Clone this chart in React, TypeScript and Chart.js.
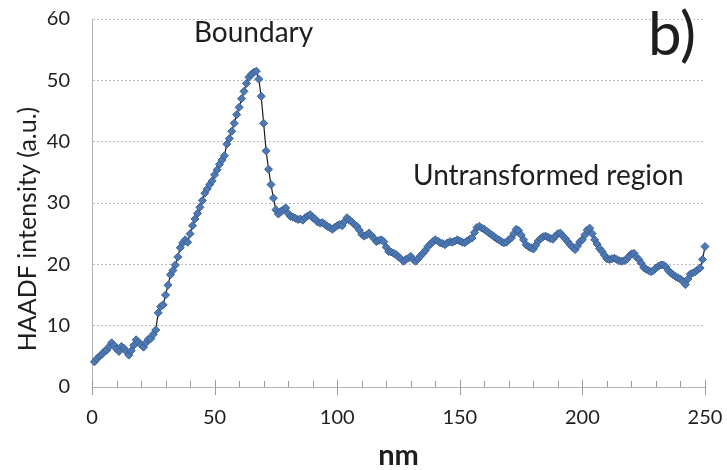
import React, { useEffect, useRef } from 'react';
import { Chart, registerables } from 'chart.js';

Chart.register(...registerables);

// Position along the line profile (nm), one sample per nm
const positionsNm: number[] = Array.from({ length: 250 }, (_, i) => i + 1);

// HAADF intensity (a.u.) read from the profile
const intensity: number[] = [
  4.1, 4.6, 5.0, 5.3, 5.8, 6.0, 6.6, 7.2, 6.8, 6.2,
  5.8, 6.6, 6.3, 5.8, 5.2, 5.9, 6.8, 7.7, 7.3, 6.9,
  6.5, 7.2, 7.8, 7.9, 8.6, 9.3, 12.1, 13.1, 13.4, 15.0,
  16.6, 18.3, 19.0, 19.9, 21.2, 22.7, 23.5, 24.0, 23.6, 25.0,
  26.3, 27.4, 28.3, 29.3, 30.4, 31.6, 32.3, 33.0, 33.6, 34.6,
  35.4, 36.3, 37.0, 37.7, 39.6, 40.5, 41.7, 43.0, 44.4, 45.6,
  47.0, 48.2, 49.5, 50.5, 51.0, 51.3, 51.5, 50.2, 47.4, 43.0,
  38.5, 35.5, 33.0, 30.8, 28.9, 28.2, 28.6, 28.9, 29.2, 28.3,
  27.8, 27.7, 27.5, 27.3, 27.4, 27.2, 27.6, 27.9, 28.1, 27.6,
  27.4, 26.9, 26.7, 26.8, 26.5, 26.2, 26.0, 25.7, 26.0, 26.3,
  26.5, 26.3, 27.0, 27.6, 27.2, 26.9, 26.5, 26.2, 25.6, 24.9,
  24.6, 24.8, 25.1, 24.7, 24.2, 23.7, 23.9, 24.0, 23.7, 22.8,
  22.1, 22.0, 21.8, 21.6, 21.2, 20.9, 20.5, 20.8, 21.0, 21.3,
  20.8, 20.5, 20.9, 21.4, 21.8, 22.3, 22.9, 23.3, 23.7, 24.0,
  23.8, 23.5, 23.4, 23.2, 23.5, 23.7, 23.6, 23.8, 24.0, 23.8,
  23.6, 23.5, 23.8, 24.1, 24.3, 25.2, 26.0, 26.2, 25.9, 25.7,
  25.4, 25.1, 24.8, 24.5, 24.2, 24.0, 23.7, 23.5, 23.6, 24.0,
  24.3, 25.0, 25.7, 25.5, 24.8, 24.0, 23.2, 22.9, 22.7, 22.5,
  23.1, 23.8, 24.2, 24.5, 24.6, 24.4, 24.2, 24.1, 24.6, 25.0,
  25.1, 24.6, 24.2, 23.7, 23.2, 22.8, 22.4, 23.0, 23.7, 24.0,
  24.8, 25.6, 25.9, 25.0, 24.0, 23.3, 22.6, 22.1, 21.5, 20.9,
  20.8, 20.9, 21.0, 20.8, 20.6, 20.5, 20.6, 20.8, 21.3, 21.7,
  21.8, 21.2, 20.8, 20.2, 19.5, 19.2, 19.0, 18.8, 19.0, 19.4,
  19.7, 19.9, 19.9, 19.6, 19.0, 18.6, 18.3, 18.0, 17.8, 17.6,
  17.2, 16.7, 17.6, 18.4, 18.6, 18.8, 19.1, 19.4, 20.8, 22.9,
];

const xAxisMin = 0;
const xAxisMax = 250;
const xMajorStep = 50;
const xMinorStep = 10;
const yAxisMin = 0;
const yAxisMax = 60;
const yStep = 10;

const xAxisTitle = 'nm';
const yAxisTitle = 'HAADF intensity (a.u.)';
const boundaryLabel = 'Boundary';
const regionLabel = 'Untransformed region';
const panelLabel = 'b)';

const FONT = 'Lato, "Open Sans", sans-serif';
const TEXT = '#1e1e1e';

const overlayPlugin = {
  id: 'overlay',
  afterDraw(chart: any) {
    const { ctx, chartArea, scales } = chart;
    const xs = scales.x;
    const ys = scales.y;
    ctx.save();
    // x-axis tick marks (major + minor)
    ctx.strokeStyle = '#9a9a9a';
    ctx.lineWidth = 1;
    for (let v = xAxisMin; v <= xAxisMax; v += xMinorStep) {
      const px = Math.round(xs.getPixelForValue(v)) + 0.5;
      const y0 = chartArea.bottom;
      ctx.beginPath();
      if (v % xMajorStep === 0) {
        ctx.moveTo(px, y0 - 7);
        ctx.lineTo(px, y0 + 8);
      } else {
        ctx.moveTo(px, y0 - 6);
        ctx.lineTo(px, y0);
      }
      ctx.stroke();
    }

    ctx.fillStyle = TEXT;
    // annotations
    ctx.textBaseline = 'alphabetic';
    ctx.font = `28px ${FONT}`;
    ctx.textAlign = 'center';
    ctx.fillText(boundaryLabel, xs.getPixelForValue(65.9), ys.getPixelForValue(56.3));
    ctx.textAlign = 'left';
    ctx.fillText(regionLabel, xs.getPixelForValue(130.9), ys.getPixelForValue(33.0));
    ctx.font = `60px ${FONT}`;
    ctx.fillText(panelLabel, xs.getPixelForValue(226.8), ys.getPixelForValue(54.2));

    // axis titles
    ctx.font = `bold 29px ${FONT}`;
    ctx.textAlign = 'center';
    ctx.fillText(xAxisTitle, (chartArea.left + chartArea.right) / 2, 465);

    ctx.save();
    ctx.translate(36, (chartArea.top + chartArea.bottom) / 2 + 26);
    ctx.rotate(-Math.PI / 2);
    ctx.font = `25px ${FONT}`;
    ctx.textAlign = 'center';
    ctx.fillText(yAxisTitle, 0, 0);
    ctx.restore();

    ctx.restore();
  },
};

export default function App() {
  const canvasRef = useRef<HTMLCanvasElement | null>(null);

  useEffect(() => {
    const canvas = canvasRef.current;
    if (!canvas) return;
    const points = positionsNm.map((x, i) => ({ x, y: intensity[i] }));
    const chart = new Chart(canvas, {
      type: 'line',
      data: {
        datasets: [
          {
            data: points,
            borderColor: '#1c1c1c',
            borderWidth: 1.2,
            pointStyle: 'rectRot',
            pointRadius: 4,
            pointBackgroundColor: '#4d79b5',
            pointBorderColor: '#3b6094',
            pointBorderWidth: 1,
            tension: 0,
            clip: false,
          },
        ],
      },
      options: {
        responsive: false,
        animation: false,
        events: [],
        layout: { padding: { left: 0, top: 19, right: 22, bottom: 0 } },
        plugins: {
          legend: { display: false },
          tooltip: { enabled: false },
          title: { display: false },
        },
        scales: {
          x: {
            type: 'linear',
            min: xAxisMin,
            max: xAxisMax,
            afterFit: (axis: any) => {
              axis.height = 83;
              axis.paddingLeft = 0;
              axis.paddingRight = 0;
            },
            grid: { display: false, drawTicks: false },
            border: { display: true, color: '#b4b4b4', width: 1 },
            ticks: {
              stepSize: xMajorStep,
              padding: 19,
              color: TEXT,
              font: { family: FONT, size: 20 },
              maxRotation: 0,
            },
          },
          y: {
            type: 'linear',
            min: yAxisMin,
            max: yAxisMax,
            afterFit: (axis: any) => {
              axis.width = 92;
              axis.paddingTop = 0;
              axis.paddingBottom = 0;
            },
            grid: { color: '#bdbdbd', lineWidth: 1, drawTicks: false },
            border: { display: true, color: '#b4b4b4', width: 1, dash: [2, 2] },
            ticks: {
              stepSize: yStep,
              padding: 22,
              color: TEXT,
              font: { family: FONT, size: 20 },
            },
          },
        },
      },
      plugins: [overlayPlugin],
    });
    return () => chart.destroy();
  }, []);

  return (
    <div style={{ position: 'fixed', left: 0, top: 0, width: 727, height: 470, background: '#fff' }}>
      <canvas ref={canvasRef} width={727} height={470} style={{ display: 'block' }} />
    </div>
  );
}
